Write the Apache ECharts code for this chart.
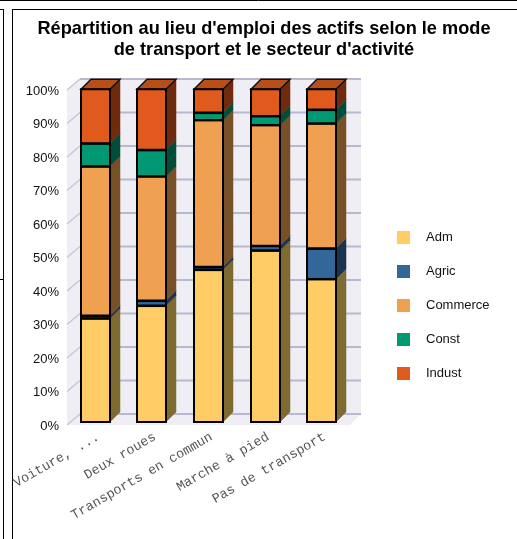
<!DOCTYPE html>
<html><head><meta charset="utf-8">
<style>html,body{margin:0;padding:0;background:#fff}#c{width:517px;height:539px}</style>
<script src="https://cdn.jsdelivr.net/npm/echarts@6/dist/echarts.min.js"></script>
</head><body><div id="c"></div>
<script>
const categories = ['Voiture, ...','Deux roues','Transports en commun','Marche à pied','Pas de transport'];
const sectors = ['Adm','Agric','Commerce','Const','Indust'];
const adm      = [31.2, 35.0, 45.8, 51.6, 43.0];
const agric    = [0.8, 1.5, 0.85, 1.4, 9.2];
const commerce = [44.9, 37.4, 44.15, 36.3, 37.6];
const constr   = [6.9, 7.9, 2.2, 2.7, 4.1];
const indust   = [16.2, 18.2, 7.0, 8.0, 6.1];
const valueTicks = [0,10,20,30,40,50,60,70,80,90,100];
const values = [adm, agric, commerce, constr, indust];
const colors = ['#FFCC66','#336699','#EFA050','#009973','#E05A1E'];
const sideColors = ['#7F6A2F','#1A3350','#785028','#004D3A','#702A0E'];
const topColor = '#B84F18';
const DX = 10, DY = -10, WALL_DX = 13, WALL_DY = -11, BAR_W = 29;

const wallSeries = {
  type:'custom', name:'wall', silent:true, z:1, xAxisIndex:2, yAxisIndex:2, data:valueTicks.map(v=>[0,v]),
  encode:{x:0,y:1},
  renderItem(params, api){
    const v = api.value(1);
    const rect = params.coordSys;
    const y = api.coord([0,v])[1];
    const x0 = rect.x, x1 = rect.x + rect.width;
    const ch = [];
    if (params.dataIndex === 0){
      const yB = y, yT = rect.y;
      const style = {fill:'#EEEEF4'};
      ch.push({type:'polygon',shape:{points:[[x0+WALL_DX,yT+WALL_DY],[x1+11,yT+WALL_DY],[x1+11,yB+WALL_DY],[x0+WALL_DX,yB+WALL_DY]]},style});
      ch.push({type:'polygon',shape:{points:[[x0,yT],[x0+WALL_DX,yT+WALL_DY],[x0+WALL_DX,yB+WALL_DY],[x0,yB]]},style});
      ch.push({type:'polygon',shape:{points:[[x0,yB],[x0+WALL_DX,yB+WALL_DY],[x1+11,yB+WALL_DY],[x1,yB]]},style});
    }
    ch.push({type:'line',shape:{x1:x0,y1:y,x2:x0+WALL_DX,y2:y+WALL_DY},style:{stroke:'#C6C6DA',lineWidth:1.5}});
    ch.push({type:'line',shape:{x1:x0+WALL_DX,y1:y+WALL_DY,x2:x1+11,y2:y+WALL_DY},style:{stroke:'#B8B8D0',lineWidth:2}});
    return {type:'group',children:ch};
  }
};

function base(si, ci){ let s=0; for(let i=0;i<si;i++) s+=values[i][ci]; return s; }

const barSeries = sectors.map((name, si)=>({
  type:'custom', name, z:2+si, xAxisIndex:1, yAxisIndex:1,
  itemStyle:{color:colors[si]},
  data: categories.map((c,ci)=>[ci, base(si,ci), base(si,ci)+values[si][ci]]),
  encode:{x:0,y:[1,2]},
  renderItem(params, api){
    const ci = api.value(0);
    const b = api.coord([ci, api.value(1)]);
    const t = api.coord([ci, api.value(2)]);
    const xl = Math.round(b[0]-14.5), xr = xl+BAR_W;
    const yb = b[1], yt = t[1];
    const ch = [];
    ch.push({type:'polygon',shape:{points:[[xr,yb],[xr+DX,yb+DY],[xr+DX,yt+DY],[xr,yt]]},
      style:{fill:sideColors[si],stroke:sideColors[si],lineWidth:0.5}});
    const isTop = si === sectors.length-1;
    if (isTop){
      ch.push({type:'polygon',shape:{points:[[xl,yt],[xl+DX,yt+DY],[xr+DX,yt+DY],[xr,yt]]},
        style:{fill:topColor,stroke:'#111',lineWidth:1.5}});
    }
    ch.push({type:'rect',shape:{x:xl,y:yt,width:BAR_W,height:yb-yt},
      style:{fill:colors[si],stroke:'#000',lineWidth:2}});
    if (!isTop){
      ch.push({type:'line',shape:{x1:xl-1,y1:yt,x2:xr+1,y2:yt},style:{stroke:'#000',lineWidth:3}});
    }
    return {type:'group',children:ch};
  }
}));

const frame = [
  [0,0.5,517,0.5],[3.5,9,3.5,539],[12.5,9,12.5,539],[12,9.5,517,9.5],[0,9.5,3,9.5],[0,279.5,3,279.5]
];

const chart = echarts.init(document.getElementById('c'), null, {renderer:'canvas'});
chart.setOption({
  animation:false,
  backgroundColor:'#fff',
  title:{
    text:"Répartition au lieu d'emploi des actifs selon le mode\nde transport et le secteur d'activité",
    left:259, top:13, textAlign:'center',
    textStyle:{fontFamily:'Liberation Sans',fontWeight:'bold',fontSize:18.2,color:'#000',lineHeight:21}
  },
  legend:{
    data:sectors, orient:'vertical', left:392, top:226, itemWidth:13, itemHeight:13, itemGap:21,
    icon:'rect', selectedMode:false,
    textStyle:{fontFamily:'Liberation Sans',fontSize:13,color:'#111',padding:[0,0,0,11]}
  },
  grid:[{left:70, top:91, width:283, height:335},{left:67, top:89.3, width:283, height:332.7},{left:67, top:90, width:283, height:335}],
  xAxis:[{
    type:'category', data:categories,
    axisLine:{show:false}, axisTick:{show:false}, splitLine:{show:false},
    axisLabel:{interval:0, rotate:30, margin:10, fontFamily:'Liberation Mono', fontSize:13.4, color:'#555'}
  },{type:'category', data:categories, gridIndex:1, show:false},{type:'category', data:categories, gridIndex:2, show:false}],
  yAxis:[{
    type:'value', min:0, max:100, interval:10,
    axisLine:{show:false}, axisTick:{show:false}, splitLine:{show:false},
    axisLabel:{formatter:'{value}%', margin:11, fontFamily:'Liberation Sans', fontSize:13, color:'#111'}
  },{type:'value', min:0, max:100, interval:10, gridIndex:1, show:false},{type:'value', min:0, max:100, interval:10, gridIndex:2, show:false}],
  series:[wallSeries, ...barSeries],
  graphic: frame.map(f=>({type:'line',silent:true,shape:{x1:f[0],y1:f[1],x2:f[2],y2:f[3]},style:{stroke:'#000',lineWidth:1}}))
});
</script></body></html>
